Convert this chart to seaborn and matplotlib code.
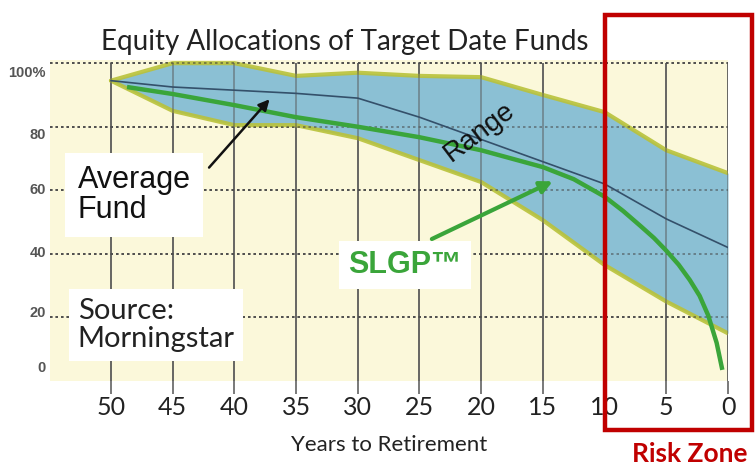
import numpy as np
import pandas as pd
import matplotlib
matplotlib.use("Agg")
import matplotlib.pyplot as plt
import matplotlib.transforms as mtransforms
from matplotlib.patches import Rectangle
import seaborn as sns

sns.set_theme(style="white")
plt.rcParams['font.family'] = ['Lato', 'DejaVu Sans']

# data
years = [50, 45, 40, 35, 30, 25, 20, 15, 10, 5, 0]
range_high = [94.5, 100, 100, 96, 97, 96, 95.6, 90, 84.6, 72.6, 65.4]
range_low = [94.5, 85, 80.5, 80.5, 76.4, 69.5, 62.6, 50.6, 36.5, 25, 15]
avg_fund = [94.5, 92.5, 91.5, 90.5, 89, 83, 76, 69, 62, 51, 42]

slgp_years = [48.7, 45, 40, 35, 30, 25, 20, 15, 12.5, 10, 8.5, 7.1, 6, 5, 4, 3.1, 2.3, 1.6, 0.92, 0.46]
slgp = [92.5, 90.3, 86.8, 83, 80, 76.7, 72.6, 67.3, 63.5, 58, 53.5, 48.8, 45, 41, 36.6, 31.8, 26.8, 20.6, 12, 3.5]

x_ticks = [50, 45, 40, 35, 30, 25, 20, 15, 10, 5, 0]
y_ticks = [0, 20, 40, 60, 80, 100]
y_ticklabels = ["0", "20", "40", "60", "80", "100%"]

df_avg = pd.DataFrame({"years": years, "alloc": avg_fund})
df_slgp = pd.DataFrame({"years": slgp_years, "alloc": slgp})

fig = plt.figure(figsize=(7.55, 4.66), dpi=100)
ax = fig.add_axes([50 / 755, 1 - 381 / 466, 678 / 755, 321 / 466])
ax.set_facecolor("#fbf8da")

dots = (0, (1.5, 1.8))
# grid
ax.vlines(x_ticks, 0, 100, color="#555555", lw=1.1, zorder=1)
ax.hlines(y_ticks[1:], 54.94, 0, color="#444444", lw=1.2, linestyles=dots, zorder=1)

# range band
ax.fill_between(years, range_low, range_high, color="#8bc0d4", zorder=2, lw=0)
ax.plot(years, range_high, color="#b9c23a", lw=3, alpha=0.9, zorder=3)
ax.plot(years, range_low, color="#b9c23a", lw=3, alpha=0.9, zorder=3)
# grid shows through the band
ax.hlines(y_ticks[1:], 54.94, 0, color="#444444", lw=1.2, linestyles=dots, zorder=3.5, alpha=0.6)
ax.vlines(x_ticks, 0, 100, color="#555555", lw=1.1, zorder=3.5, alpha=0.6)

sns.lineplot(data=df_avg, x="years", y="alloc", ax=ax, color="#34506a", lw=1.2, zorder=4)
sns.lineplot(data=df_slgp, x="years", y="alloc", ax=ax, color="#3aa53a", lw=3.2, zorder=5,
             solid_joinstyle="round", solid_capstyle="butt")

ax.set_xlim(54.94, 0)
ax.set_ylim(0, 101)
ax.set_xticks(x_ticks)
ax.set_xticklabels([str(v) for v in x_ticks], fontsize=18, color="#222222")
ax.set_yticks(y_ticks)
ax.set_yticklabels([])
# y labels drawn as text: in the reference they sit slightly off their gridlines
label_shift_px = [-13, -4, -1, 0, 8, 10]
ytrans = mtransforms.blended_transform_factory(ax.transAxes, ax.transData)
for v, lab, dy in zip(y_ticks, y_ticklabels, label_shift_px):
    t = ytrans + mtransforms.ScaledTranslation(-4 / 100, -dy / 100, fig.dpi_scale_trans)
    ax.text(0, v, lab, transform=t, ha="right", va="center", fontsize=10.5, color="#555555",
            fontweight="bold", family=["Liberation Sans", "DejaVu Sans"])
ax.tick_params(axis="x", length=9, width=1.1, color="#555555", direction="out", pad=2, bottom=True)
ax.tick_params(axis="y", length=0)
for s in ax.spines.values():
    s.set_visible(False)
ax.set_xlabel("Years to Retirement", fontsize=16, color="#222222", labelpad=11)
ax.set_ylabel("")

# annotations
ax.text(52.7, 58.5, "Average\nFund", fontsize=22, color="#111111", va="center", ha="left",
        family=["Liberation Sans", "DejaVu Sans"], linespacing=1.0,
        bbox=dict(boxstyle="square,pad=0.4", fc="white", ec="none"), zorder=6)
ax.annotate("", xy=(37.0, 89.3), xytext=(42.2, 66.5),
            arrowprops=dict(arrowstyle="-|>", color="#111111", lw=1.8, mutation_scale=16), zorder=6)
ax.text(52.7, 17.6, "Source:\nMorningstar", fontsize=21, color="#222222", va="center", ha="left",
        linespacing=1.1, bbox=dict(boxstyle="square,pad=0.3", fc="white", ec="none"), zorder=6)
ax.text(20.1, 78.3, "Range", fontsize=20, rotation=37, color="#111111", ha="center", va="center",
        family=["Liberation Sans", "DejaVu Sans"], zorder=6)
ax.text(26.2, 36.5, "SLGP™", fontsize=22, fontweight="bold", color="#3aa53a", ha="center", va="center",
        family=["Liberation Sans", "DejaVu Sans"], bbox=dict(boxstyle="square,pad=0.3", fc="white", ec="none"),
        zorder=6)
ax.annotate("", xy=(14.0, 63.2), xytext=(24.2, 44.3),
            arrowprops=dict(arrowstyle="-|>", color="#3aa53a", lw=3, mutation_scale=18), zorder=6)

fig.text(345 / 755, 1 - 42 / 466, "Equity Allocations of Target Date Funds", fontsize=20,
         color="#222222", ha="center", va="center")

# risk zone box
fig.patches.append(Rectangle((605 / 755, 1 - 430 / 466), 147 / 755, 415 / 466, fill=False,
                             ec="#c00000", lw=3.2, transform=fig.transFigure, figure=fig, zorder=10))
fig.text(690 / 755, 1 - 454 / 466, "Risk Zone", fontsize=19, fontweight="bold", color="#c00000",
         ha="center", va="center")

fig.savefig("out.png", dpi=100)
